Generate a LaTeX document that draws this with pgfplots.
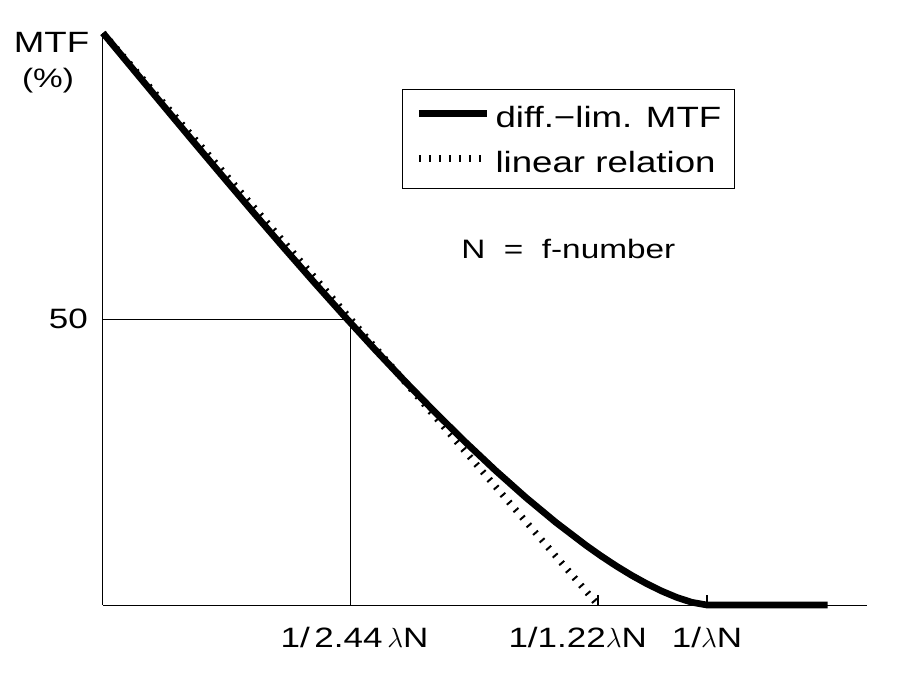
\documentclass[border=0pt]{standalone}
\usepackage{pgfplots}
\pgfplotsset{compat=1.18}
\usepackage{fontspec}
\setmainfont{Liberation Sans}[FakeStretch=1.25]
\newcommand\lab{\fontsize{20}{24}\selectfont}
\newcommand\tlab{\fontsize{21}{25}\selectfont}
\newcommand\leg{\fontsize{22}{26}\selectfont}
\begin{document}
\begin{tikzpicture}
\begin{axis}[
  scale only axis, width=573pt, height=429pt,
  xmin=0, xmax=1.265, ymin=0, ymax=100,
  axis x line*=bottom, axis y line*=left,
  axis line style={line width=0.75pt, -},
  xtick={0.8197,1}, xticklabels={},
  ytick={50},
  tick align=inside, major tick length=7.5pt,
  xtick style={line width=1.5pt, black},
  ytick style={draw=none},
  yticklabel style={font=\tlab, inner sep=0pt, xshift=-11.25pt},
  /pgf/number format/assume math mode=true,
  clip=false,
  legend image code/.code={\draw[#1] (0pt,2pt) -- (51pt,2pt);},
  reverse legend,
  legend style={at={(0.3914,0.9021)}, anchor=north west, draw=black, line width=0.75pt,
    font=\leg, inner xsep=9.75pt, inner ysep=10pt, row sep=13.25pt,
    nodes={inner sep=0pt, text height=18.5pt, text depth=2pt},
    /tikz/every odd column/.append style={column sep=4pt}},
  legend cell align=left,
]
\addplot[black, line width=5pt, dash pattern=on 1.5pt off 6pt]
  coordinates {(0,100) (0.8197,0)};
\addplot[black, line width=5pt, line join=round]
  coordinates {
  (0,100) (0.05,93.64) (0.1,87.29) (0.15,80.97) (0.2,74.71) (0.25,68.50)
  (0.3,62.38) (0.35,56.36) (0.4,50.46) (0.45,44.70) (0.5,39.10) (0.55,33.68)
  (0.6,28.48) (0.65,23.51) (0.7,18.81) (0.75,14.43) (0.8,10.41) (0.825,8.55)
  (0.85,6.81) (0.875,5.20) (0.9,3.74) (0.925,2.44) (0.95,1.33) (0.975,0.47)
  (1.0,0) (1.2,0)};
\addplot[black, line width=0.75pt, forget plot]
  coordinates {(0,50) (0.4098,50) (0.4098,0)};
\legend{linear relation, diff.\textminus lim. MTF\hspace{14pt}}
\node[font=\tlab, anchor=base] at (axis cs:0.4098,0) [xshift=3pt, yshift=-31.5pt] {1/\,2.44\,$\lambda$N};
\node[font=\tlab, anchor=base] at (axis cs:0.786,0) [yshift=-31.5pt] {1/1.22$\lambda$N};
\node[font=\tlab, anchor=base] at (axis cs:1.0,0) [yshift=-31.5pt] {1/$\lambda$N};
\node[font=\lab, anchor=base] at (axis description cs:0.609,0) [yshift=260.25pt] {N~ = ~f-number};
\node[font=\fontsize{22}{26}\selectfont, anchor=base] at (axis description cs:0,1) [xshift=-38.6pt, yshift=-14.25pt] {MTF};
\node[font=\lab, anchor=base] at (axis description cs:0,1) [xshift=-41.25pt, yshift=-40.5pt] {(\%)};
\end{axis}
\path (current axis.south west) ++(-77.25pt,-53.25pt);
\path (current axis.north east) ++(41.25pt,24.75pt);
\end{tikzpicture}
\end{document}
